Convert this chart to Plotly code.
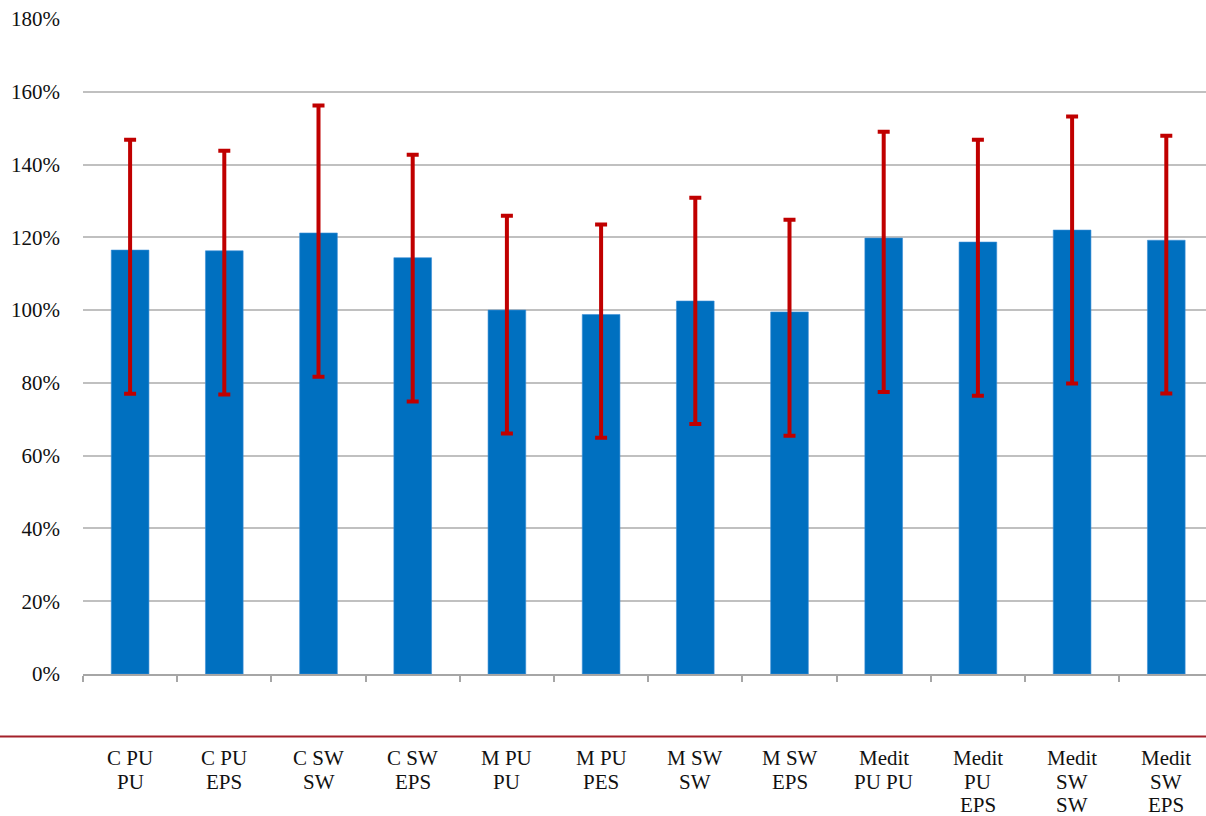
import plotly.graph_objects as go

categories = ["C PU PU", "C PU EPS", "C SW SW", "C SW EPS", "M PU PU", "M PU PES",
              "M SW SW", "M SW EPS", "Medit PU PU", "Medit PU EPS", "Medit SW SW", "Medit SW EPS"]
label_lines = ["C PU<br>PU", "C PU<br>EPS", "C SW<br>SW", "C SW<br>EPS", "M PU<br>PU", "M PU<br>PES",
               "M SW<br>SW", "M SW<br>EPS", "Medit<br>PU PU", "Medit<br>PU<br>EPS", "Medit<br>SW<br>SW",
               "Medit<br>SW<br>EPS"]
values = [116.5, 116.3, 121.2, 114.4, 100.0, 98.8, 102.5, 99.5, 119.8, 118.7, 122.0, 119.2]
upper = [146.8, 143.8, 156.2, 142.7, 125.9, 123.5, 130.9, 124.8, 149.0, 146.8, 153.2, 147.9]
lower = [77.0, 76.8, 81.7, 74.9, 66.1, 64.9, 68.7, 65.5, 77.5, 76.5, 79.8, 77.1]
y_ticks = [0, 20, 40, 60, 80, 100, 120, 140, 160, 180]
y_tick_labels = [f"{t}%" for t in y_ticks]

err_plus = [u - v for u, v in zip(upper, values)]
err_minus = [v - l for v, l in zip(values, lower)]

FONT = "Liberation Serif"

fig = go.Figure()
fig.add_trace(go.Bar(
    x=categories, y=values, width=0.4,
    marker=dict(color="#0070C0", line=dict(color="#3A8FD6", width=0.6)),
    error_y=dict(type="data", symmetric=False, array=err_plus, arrayminus=err_minus,
                 color="#C00000", thickness=4, width=6),
    hoverinfo="x+y",
))

W, H = 1206, 816
ml, mr, mt, mb = 83, 0, 19, 141.5
plot_h = H - mt - mb
plot_w = W - ml - mr
cat_px = 94.2
x_end = -0.5 + plot_w / cat_px

def py(px):
    return (H - mb - px) / plot_h

for cat, lab in zip(categories, label_lines):
    for i, line in enumerate(lab.split("<br>")):
        fig.add_annotation(x=cat, xref="x", y=py(759 + 23.5 * i), yref="paper", yanchor="middle",
                           text=line, showarrow=False, align="center",
                           font=dict(family=FONT, size=21, color="#111111"))

fig.add_shape(type="line", xref="paper", yref="paper",
              x0=-ml / plot_w, x1=1.01, y0=py(737), y1=py(737),
              line=dict(color="#A3212A", width=2))

fig.update_layout(
    width=W, height=H,
    margin=dict(l=ml, r=mr, t=mt, b=mb),
    plot_bgcolor="white", paper_bgcolor="white",
    showlegend=False,
    font=dict(family=FONT, size=20, color="#111111"),
    xaxis=dict(type="category", showticklabels=False, ticks="outside", tickson="boundaries",
               ticklen=6, tickcolor="#A6A6A6", tickwidth=1.5, showline=True,
               linecolor="#A6A6A6", linewidth=1.5, showgrid=False, range=[-0.5, x_end]),
    yaxis=dict(range=[0, 180], tickvals=y_ticks, ticktext=y_tick_labels, showgrid=True,
               gridcolor="#C0C0C0", gridwidth=2, zeroline=False, showline=False,
               ticklabelstandoff=22, tickfont=dict(family=FONT, size=21, color="#111111")),
)

fig.write_html("out.html", config={"displayModeBar": False},
               post_script="document.body.style.margin='0';document.body.style.overflow='hidden';")
